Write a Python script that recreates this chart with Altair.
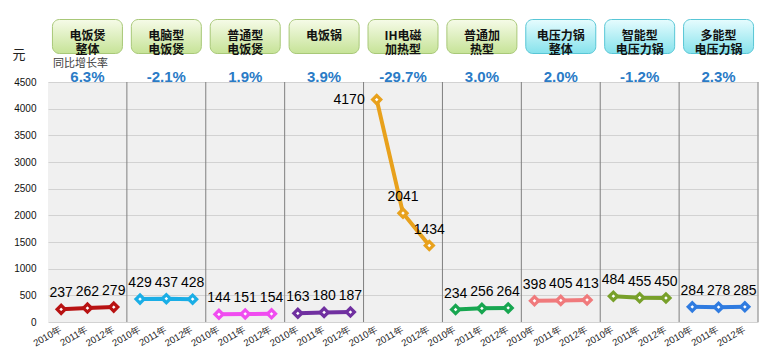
import altair as alt
import pandas as pd

categories = ["电饭煲整体", "电脑型电饭煲", "普通型电饭煲", "电饭锅", "IH电磁加热型",
              "普通加热型", "电压力锅整体", "智能型电压力锅", "多能型电压力锅"]
header_labels = ["电饭煲\n整体", "电脑型\n电饭煲", "普通型\n电饭煲", "电饭锅", "IH电磁\n加热型",
                 "普通加\n热型", "电压力锅\n整体", "智能型\n电压力锅", "多能型\n电压力锅"]
header_group = ["rice", "rice", "rice", "rice", "rice", "rice", "pressure", "pressure", "pressure"]
years = ["2010年", "2011年", "2012年"]
v2010 = [237, 429, 144, 163, 4170, 234, 398, 484, 284]
v2011 = [262, 437, 151, 180, 2041, 256, 405, 455, 278]
v2012 = [279, 428, 154, 187, 1434, 264, 413, 450, 285]
growth = ["6.3%", "-2.1%", "1.9%", "3.9%", "-29.7%", "3.0%", "2.0%", "-1.2%", "2.3%"]
colors = ["#b81212", "#1aaee6", "#f04cf0", "#7030a0", "#e8a11c",
          "#17a650", "#f07a7c", "#78a02a", "#2f7be0"]
y_ticks = [0, 500, 1000, 1500, 2000, 2500, 3000, 3500, 4000, 4500]

rows = []
for i, c in enumerate(categories):
    for y, vals in zip(years, [v2010, v2011, v2012]):
        rows.append({"cat": c, "year": y, "key": f"{c}|{y}", "value": vals[i]})
df = pd.DataFrame(rows)
keys = list(df["key"])

hdr = pd.DataFrame({
    "cat": categories,
    "label": header_labels,
    "group": header_group,
    "growth": growth,
    "key": [f"{c}|{years[1]}" for c in categories],
})
firsts = pd.DataFrame({"key": [f"{c}|{years[0]}" for c in categories[1:]]})
lasts = pd.DataFrame({"key": [f"{categories[-1]}|{years[-1]}"]})
one = pd.DataFrame({"a": [1]})

xscale = alt.Scale(domain=keys, paddingInner=0, paddingOuter=0)
xaxis = alt.Axis(title=None, labelExpr="split(datum.value, '|')[1]", labelAngle=-30,
                 labelAlign="right", labelBaseline="middle", labelFontSize=9.5,
                 labelFont="Liberation Sans", labelColor="#222", labelPadding=6,
                 domain=False, ticks=False, grid=False)


def X(bp=0.5):
    return alt.X("key:N", scale=xscale, axis=xaxis, sort=keys, bandPosition=bp)


yenc = alt.Y("value:Q", scale=alt.Scale(domain=[0, 4500], nice=False),
             axis=alt.Axis(title=None, values=y_ticks, format="d", domain=False, ticks=False,
                           labelPadding=12, labelFontSize=10, labelFont="Liberation Sans",
                           labelColor="#111", grid=True, gridColor="#d2d2d2", gridWidth=1))
cscale = alt.Scale(domain=categories, range=colors)

base = alt.Chart(df)

lines = base.mark_line(strokeWidth=4).encode(
    x=X(), y=yenc,
    color=alt.Color("cat:N", scale=cscale, legend=None),
    detail="cat:N")

points = base.mark_point(shape="diamond", filled=False, fill="white", fillOpacity=1,
                         strokeWidth=3.2, size=65, opacity=1).encode(
    x=X(), y=yenc, color=alt.Color("cat:N", scale=cscale, legend=None))

labels = base.transform_filter(alt.datum.value < 4000).mark_text(
    dy=-16, fontSize=14, font="Liberation Sans", color="black").encode(
    x=X(), y=yenc, text=alt.Text("value:Q"))

labels_big = base.transform_filter(alt.datum.value >= 4000).mark_text(
    dx=-12, align="right", fontSize=14, font="Liberation Sans", color="black").encode(
    x=X(), y=yenc, text=alt.Text("value:Q"))

seps = alt.Chart(firsts).mark_rule(color="#7f7f7f", strokeWidth=1).encode(x=X(0))
right_edge = alt.Chart(lasts).mark_rule(color="#a6a6a6", strokeWidth=1.5).encode(x=X(1))

green_grad = alt.LinearGradient(gradient="linear", x1=0, x2=0, y1=0, y2=1,
                                stops=[alt.GradientStop(color="#f6fbe8", offset=0),
                                       alt.GradientStop(color="#c6e397", offset=1)])
cyan_grad = alt.LinearGradient(gradient="linear", x1=0, x2=0, y1=0, y2=1,
                               stops=[alt.GradientStop(color="#e6fcfe", offset=0),
                                      alt.GradientStop(color="#86e2ec", offset=1)])

box_green = alt.Chart(hdr).transform_filter(alt.datum.group == "rice").mark_bar(
    width=70, cornerRadius=7, fill=green_grad, stroke="#a8c878", strokeWidth=1).encode(
    x=X(), y=alt.value(-62.5), y2=alt.value(-28.5))
box_cyan = alt.Chart(hdr).transform_filter(alt.datum.group == "pressure").mark_bar(
    width=70, cornerRadius=7, fill=cyan_grad, stroke="#58c6d6", strokeWidth=1).encode(
    x=X(), y=alt.value(-62.5), y2=alt.value(-28.5))

box_text = alt.Chart(hdr).mark_text(lineBreak="\n", baseline="middle", fontSize=12,
                                    fontWeight="bold", lineHeight=14,
                                    font="Noto Sans CJK SC", color="#111").encode(
    x=X(), y=alt.value(-46.5), text="label:N")

growth_text = alt.Chart(hdr).mark_text(fontSize=15, fontWeight="bold", font="Liberation Sans",
                                       color="#2a7bc6", baseline="middle").encode(
    x=X(), y=alt.value(-5), text="growth:N")

rate_title = alt.Chart(one).mark_text(align="left", baseline="middle", fontSize=11,
                                      font="Noto Sans CJK SC", color="#404040").encode(
    x=alt.value(5), y=alt.value(-18), text=alt.value("同比增长率"))

unit_title = alt.Chart(one).mark_text(align="center", baseline="middle", fontSize=13,
                                      font="Noto Sans CJK SC", color="#222").encode(
    x=alt.value(-29), y=alt.value(-27), text=alt.value("元"))

chart = alt.layer(
    lines, seps, right_edge, points, labels, labels_big,
    box_green, box_cyan, box_text, growth_text, rate_title, unit_title
).properties(
    width=710, height=240,
    autosize=alt.AutoSizeParams(type="none"),
    padding={"left": 40, "top": 74, "right": 10, "bottom": 26},
    background="white",
).configure_view(fill="#f0f0f0", strokeWidth=0)

chart.save("out.html", embed_options={"renderer": "svg", "actions": False})
